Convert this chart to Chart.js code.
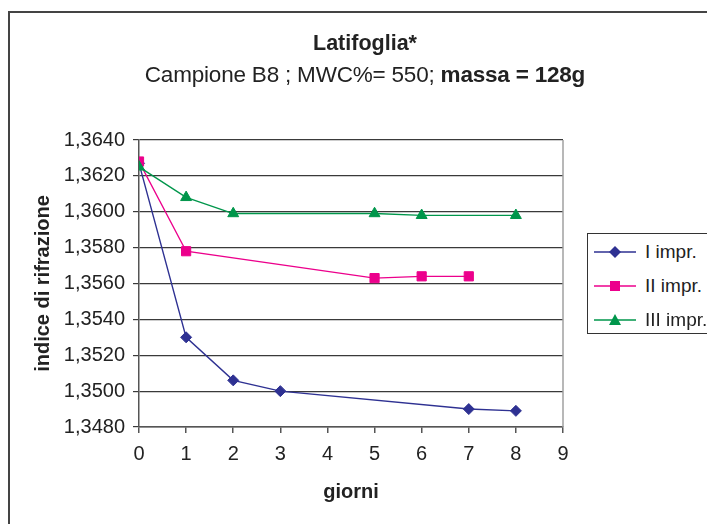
<!DOCTYPE html>
<html>
<head>
<meta charset="utf-8">
<script src="https://cdn.jsdelivr.net/npm/chart.js@4.4.1/dist/chart.umd.min.js"></script>
<style>
  body { margin: 0; background: #fff; overflow: hidden; font-family: Arial, "Liberation Sans", sans-serif; color: #222; }
  #wrap { position: relative; width: 707px; height: 524px; overflow: hidden; }
  #frame { position: absolute; left: 8px; top: 11px; width: 760px; height: 560px; border-left: 2px solid #444; border-top: 2px solid #444; }
  #chart { position: absolute; left: 0; top: 0; }
  .ttl { position: absolute; left: 0; width: 730px; text-align: center; white-space: nowrap; }
  #t1 { top: 31px; font-size: 21.5px; font-weight: bold; }
  #t2 { top: 62px; font-size: 22.5px; letter-spacing: -0.2px; }
  #legend { position: absolute; left: 587px; top: 233px; width: 140px; height: 99px; border: 1px solid #333; background: #fff; }
  .item { position: absolute; left: 0; height: 30px; font-size: 19px; line-height: 30px; white-space: nowrap; }
  .item svg { position: absolute; left: 6px; top: 5px; }
  .item span { position: absolute; left: 57px; top: 0; }
</style>
</head>
<body>
<div id="wrap">
  <div id="frame"></div>
  <canvas id="chart" width="707" height="524"></canvas>
  <div class="ttl" id="t1">Latifoglia*</div>
  <div class="ttl" id="t2">Campione B8 ; MWC%= 550; <b>massa = 128g</b></div>
  <div id="legend"></div>
</div>
<script>
// giorni / indice di rifrazione per ogni impregnazione
const days1 = [0, 1, 2, 3, 7, 8];
const impr1 = [1.3627, 1.3530, 1.3506, 1.3500, 1.3490, 1.3489];
const days2 = [0, 1, 5, 6, 7];
const impr2 = [1.3628, 1.3578, 1.3563, 1.3564, 1.3564];
const days3 = [0, 1, 2, 5, 6, 8];
const impr3 = [1.3625, 1.3608, 1.3599, 1.3599, 1.3598, 1.3598];
const seriesNames = ['I impr.', 'II impr.', 'III impr.'];
const xTicks = [0, 1, 2, 3, 4, 5, 6, 7, 8, 9];
const yTicks = [1.348, 1.350, 1.352, 1.354, 1.356, 1.358, 1.360, 1.362, 1.364];

const colors = ['#2e3192', '#ec008c', '#00964b'];
const styles = ['rectRot', 'rect', 'triangle'];
const radii = [5.5, 6.5, 6.3];

function pts(xs, ys) { return xs.map((x, i) => ({ x, y: ys[i] })); }

const datasets = [pts(days1, impr1), pts(days2, impr2), pts(days3, impr3)].map((d, i) => ({
    label: seriesNames[i],
    data: d,
    borderColor: colors[i],
    backgroundColor: colors[i],
    borderWidth: 1.4,
    pointStyle: styles[i],
    pointRadius: radii[i],
    pointBorderWidth: 1,
    tension: 0,
    order: 2 - i,
}));

// bordo destro dell'area del grafico
const plotBorder = {
    id: 'plotBorder',
    afterDraw(chart) {
        const { ctx, chartArea: a } = chart;
        ctx.save();
        ctx.strokeStyle = '#a0a0a0';
        ctx.lineWidth = 1.5;
        ctx.beginPath();
        ctx.moveTo(a.right, a.top);
        ctx.lineTo(a.right, a.bottom);
        ctx.stroke();
        ctx.restore();
    }
};

new Chart(document.getElementById('chart'), {
    type: 'line',
    data: { datasets },
    options: {
        responsive: false,
        animation: false,
        layout: { padding: { left: 0, right: 144, top: 140, bottom: 0 } },
        plugins: { legend: { display: false }, tooltip: { enabled: false } },
        scales: {
            x: {
                type: 'linear',
                min: 0, max: 9,
                afterFit: s => { s.height = 97; },
                afterBuildTicks: s => { s.ticks = xTicks.map(v => ({ value: v })); },
                ticks: { font: { size: 20, family: 'Arial' }, color: '#222', padding: 9 },
                grid: { drawOnChartArea: false, tickLength: 6, color: '#555', lineWidth: 1.5 },
                border: { color: '#555', width: 1.5 },
                title: { display: true, text: 'giorni', font: { size: 20, weight: 'bold', family: 'Arial' }, color: '#222', padding: { top: 0, bottom: 20 } }
            },
            y: {
                min: 1.348, max: 1.364,
                afterFit: s => { s.width = 139; },
                afterBuildTicks: s => { s.ticks = yTicks.map(v => ({ value: v })); },
                ticks: {
                    font: { size: 20, family: 'Arial' }, color: '#222', padding: 8,
                    callback: v => v.toFixed(4).replace('.', ',')
                },
                grid: { tickLength: 6, color: '#3a3a3a', lineWidth: 1.2 },
                border: { color: '#555', width: 1.5 },
                title: { display: true, text: 'indice di rifrazione', font: { size: 20, weight: 'bold', family: 'Arial' }, color: '#222', padding: { top: 31, bottom: 0 } }
            }
        }
    },
    plugins: [plotBorder]
});

// legenda in stile Excel
const shapes = {
    rectRot: c => `<polygon points="21,${c - 6} 27,${c} 21,${c + 6} 15,${c}" />`,
    rect: c => `<rect x="16" y="${c - 5}" width="10" height="10" />`,
    triangle: c => `<polygon points="21,${c - 6} 27,${c + 5} 15,${c + 5}" />`
};
const legend = document.getElementById('legend');
seriesNames.forEach((name, i) => {
    const item = document.createElement('div');
    item.className = 'item';
    item.style.top = (3 + i * 34) + 'px';
    item.innerHTML =
        `<svg width="44" height="20"><line x1="0" y1="10" x2="42" y2="10" stroke="${colors[i]}" stroke-width="1.5"/>` +
        `<g fill="${colors[i]}">${shapes[styles[i]](10)}</g></svg><span>${name}</span>`;
    legend.appendChild(item);
});
</script>
</body>
</html>
